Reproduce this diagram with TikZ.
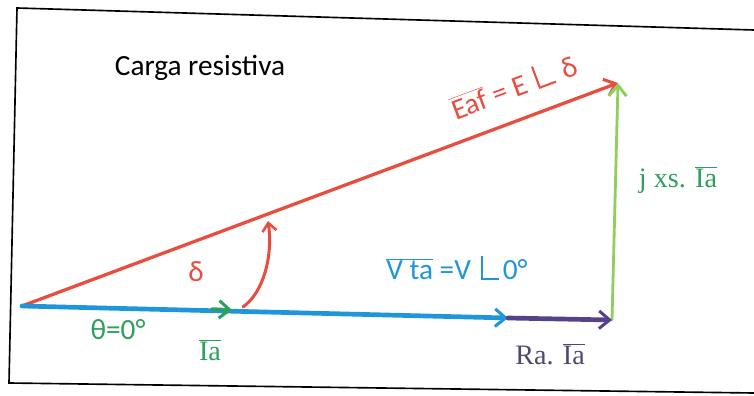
\documentclass[tikz,border=0pt]{standalone}
\usepackage{fontspec}
\setmainfont{Carlito}
\newfontfamily\camb{Liberation Serif}
\usetikzlibrary{arrows.meta,positioning}
\definecolor{eafred}{RGB}{232,78,64}
\definecolor{vtblue}{RGB}{32,150,218}
\definecolor{rapurp}{RGB}{84,66,140}
\definecolor{xsgreen}{RGB}{146,206,92}
\definecolor{txgreen}{RGB}{46,160,92}
\definecolor{ragray}{RGB}{78,74,110}
\newcommand{\ovl}[1]{$\overline{\mbox{#1}}$}
\newcommand{\angl}{\kern0.12em\rule{0.07em}{0.8em}\rule{0.55em}{0.07em}\kern0.12em}

\begin{document}
\begin{tikzpicture}[x=0.03cm, y=-0.03cm, >={Straight Barb[length=9pt, width=15pt, line width=2.6pt]},
  big/.style={font=\fontsize{25}{30}\selectfont, inner sep=1pt},
  serif/.style={font=\fontsize{24}{28}\selectfont\camb, inner sep=1pt},
  phasor/.style={->, line cap=round}]
  \useasboundingbox (0,0) rectangle (754,396);
  % frame of the scan
  \draw[line width=1.4pt] (754,30) -- (17,8) -- (9,383) -- (754,393);

  \coordinate (O) at (22,306);
  \coordinate (V) at (508,318);
  \coordinate (R) at (612,320);
  \coordinate (E) at (618,83);
  \coordinate (Ib) at (212,309);
  \coordinate (I) at (232,310);
  \coordinate (d0) at (243,307);
  \coordinate (d1) at (268,221);

  \draw[phasor, eafred, line width=2.8pt] (O) -- (E);
  \draw[phasor, xsgreen, line width=2.4pt] (R) -- (E);
  \draw[phasor, vtblue, line width=4pt] (O) -- (V);
  \draw[phasor, rapurp, line width=4pt] (V) -- (R);
  \draw[phasor, txgreen, line width=3pt] (Ib) -- (I);
  \draw[phasor, eafred, line width=2.6pt, >={Straight Barb[length=7pt, width=12pt, line width=2.2pt]}]
    (d0) .. controls (264,292) and (273,255) .. (d1);

  \node[big] (title) at (200,68) {Carga resistiva};
  \node[big, text=eafred, rotate=20.5] (eaf) at (514,86) {\ovl{Eaf} = E \angl\ δ};
  \node[serif, text=txgreen] (jxs) at (678,180) {j xs. \ovl{Ia}};
  \node[big, text=eafred] (delta) at (196,272) {δ};
  \node[big, text=vtblue] (vta) at (457,268) {\ovl{V ta} =V \angl0°};
  \node[big, text=txgreen] (theta) at (118,330) {θ=0°};
  \node[serif, text=txgreen] (ia) at (210,350) {\ovl{Ia}};
  \node[serif, text=ragray] (raia) at (550,354) {Ra. \ovl{Ia}};
\end{tikzpicture}
\end{document}
